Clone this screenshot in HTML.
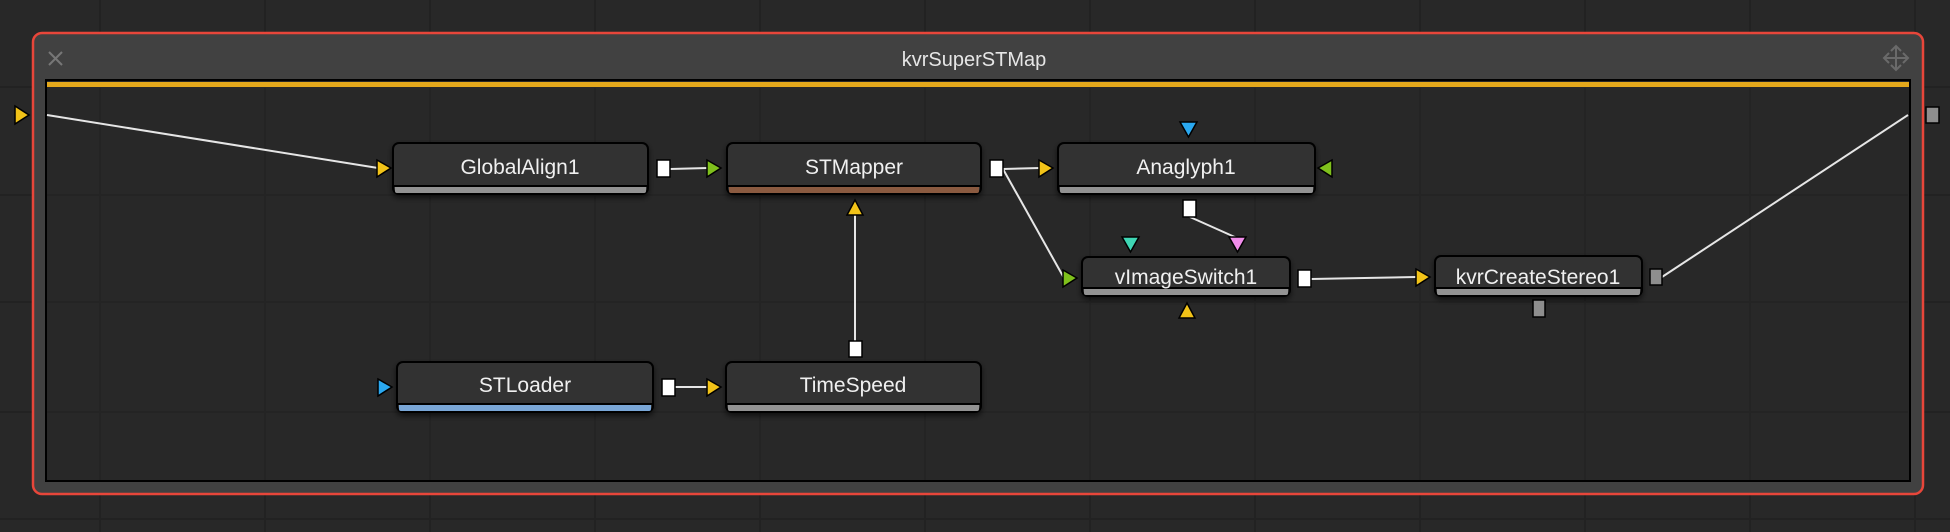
<!DOCTYPE html>
<html><head><meta charset="utf-8"><style>
html,body{margin:0;padding:0;background:#282828;width:1950px;height:532px;overflow:hidden}
svg{display:block}
text{font-family:"Liberation Sans","DejaVu Sans",sans-serif}
</style></head><body>
<svg width="1950" height="532" viewBox="0 0 1950 532" xmlns="http://www.w3.org/2000/svg">
<defs>
<filter id="sh" x="-10%" y="-20%" width="120%" height="160%"><feDropShadow dx="0" dy="3" stdDeviation="3" flood-color="#000" flood-opacity="0.6"/></filter>
</defs>
<rect width="1950" height="532" fill="#282828"/>
<g stroke="#222" stroke-width="2">
<line x1="100" y1="0" x2="100" y2="532"/><line x1="265" y1="0" x2="265" y2="532"/><line x1="430" y1="0" x2="430" y2="532"/><line x1="595" y1="0" x2="595" y2="532"/><line x1="760" y1="0" x2="760" y2="532"/><line x1="925" y1="0" x2="925" y2="532"/><line x1="1090" y1="0" x2="1090" y2="532"/><line x1="1255" y1="0" x2="1255" y2="532"/><line x1="1420" y1="0" x2="1420" y2="532"/><line x1="1585" y1="0" x2="1585" y2="532"/><line x1="1750" y1="0" x2="1750" y2="532"/><line x1="1915" y1="0" x2="1915" y2="532"/>
<line x1="0" y1="87" x2="1950" y2="87"/><line x1="0" y1="195" x2="1950" y2="195"/><line x1="0" y1="302" x2="1950" y2="302"/><line x1="0" y1="412" x2="1950" y2="412"/><line x1="0" y1="519" x2="1950" y2="519"/>
</g>
<!-- group frame -->
<rect x="33" y="33" width="1890" height="461" rx="9" fill="#414141" stroke="#e8463a" stroke-width="2.5"/>
<rect x="46" y="80" width="1864" height="401" fill="#282828" stroke="#000" stroke-width="2"/>
<g stroke="#242424" stroke-width="2">
<line x1="100" y1="88" x2="100" y2="480"/><line x1="265" y1="88" x2="265" y2="480"/><line x1="430" y1="88" x2="430" y2="480"/><line x1="595" y1="88" x2="595" y2="480"/><line x1="760" y1="88" x2="760" y2="480"/><line x1="925" y1="88" x2="925" y2="480"/><line x1="1090" y1="88" x2="1090" y2="480"/><line x1="1255" y1="88" x2="1255" y2="480"/><line x1="1420" y1="88" x2="1420" y2="480"/><line x1="1585" y1="88" x2="1585" y2="480"/><line x1="1750" y1="88" x2="1750" y2="480"/>
<line x1="47" y1="195" x2="1908" y2="195"/><line x1="47" y1="302" x2="1908" y2="302"/><line x1="47" y1="412" x2="1908" y2="412"/>
</g>
<rect x="47" y="82" width="1862" height="5" fill="#e4a81c"/>
<text x="974" y="66" font-size="20" fill="#e6e6e6" text-anchor="middle">kvrSuperSTMap</text>
<g stroke="#777" stroke-width="2"><line x1="49" y1="52" x2="62" y2="65"/><line x1="62" y1="52" x2="49" y2="65"/></g>
<g stroke="#6a6a6a" stroke-width="2" fill="none"><line x1="1896" y1="47" x2="1896" y2="69"/><line x1="1885" y1="58" x2="1907" y2="58"/><path d="M1891 51 L1896 46 L1901 51 M1891 65 L1896 70 L1901 65 M1889 53 L1884 58 L1889 63 M1903 53 L1908 58 L1903 63"/></g>

<!-- connectors -->
<g stroke="#e6e6e6" stroke-width="2" fill="none">
<line x1="47" y1="115" x2="378" y2="168"/>
<line x1="670" y1="169" x2="708" y2="168"/>
<line x1="1003" y1="169" x2="1040" y2="168"/>
<line x1="1003" y1="169" x2="1064" y2="278"/>
<line x1="855" y1="341" x2="855" y2="215"/>
<line x1="1190" y1="217" x2="1237" y2="238"/>
<line x1="1311" y1="279" x2="1416" y2="277"/>
<line x1="1662" y1="277" x2="1908" y2="115"/>
<line x1="675" y1="387" x2="708" y2="387"/>
</g>

<!-- nodes -->
<g filter="url(#sh)" stroke="#000" stroke-width="2">
<rect x="393" y="143" width="255" height="51" rx="6" fill="#323232"/>
<rect x="727" y="143" width="254" height="51" rx="6" fill="#323232"/>
<rect x="1058" y="143" width="257" height="51" rx="6" fill="#323232"/>
<rect x="1082" y="257" width="208" height="39" rx="6" fill="#323232"/>
<rect x="1435" y="256" width="207" height="40" rx="6" fill="#323232"/>
<rect x="397" y="362" width="256" height="50" rx="6" fill="#323232"/>
<rect x="726" y="362" width="255" height="50" rx="6" fill="#323232"/>
</g>
<g>
<path d="M395 187 H646 V191 Q646 193 644 193 H397 Q395 193 395 191Z" fill="#929292"/>
<path d="M729 187 H979 V191 Q979 193 977 193 H731 Q729 193 729 191Z" fill="#8a5a40"/>
<path d="M1060 187 H1313 V191 Q1313 193 1311 193 H1062 Q1060 193 1060 191Z" fill="#929292"/>
<path d="M1084 289 H1288 V293 Q1288 295 1286 295 H1086 Q1084 295 1084 293Z" fill="#929292"/>
<path d="M1437 289 H1640 V293 Q1640 295 1638 295 H1439 Q1437 295 1437 293Z" fill="#929292"/>
<path d="M399 405 H651 V409 Q651 411 649 411 H401 Q399 411 399 409Z" fill="#79a6d6"/>
<path d="M728 405 H979 V409 Q979 411 977 411 H730 Q728 411 728 409Z" fill="#929292"/>
</g>
<g stroke="#000" stroke-width="2"><line x1="394" y1="186" x2="647" y2="186"/><line x1="728" y1="186" x2="980" y2="186"/><line x1="1059" y1="186" x2="1314" y2="186"/><line x1="1083" y1="288" x2="1289" y2="288"/><line x1="1436" y1="288" x2="1641" y2="288"/><line x1="398" y1="404" x2="652" y2="404"/><line x1="727" y1="404" x2="980" y2="404"/></g>
<g font-size="21" fill="#f0f0f0" text-anchor="middle">
<text x="520" y="174">GlobalAlign1</text>
<text x="854" y="174">STMapper</text>
<text x="1186" y="174">Anaglyph1</text>
<text x="1186" y="284">vImageSwitch1</text>
<text x="1538" y="284">kvrCreateStereo1</text>
<text x="525" y="392">STLoader</text>
<text x="853" y="392">TimeSpeed</text>
</g>

<!-- ports -->
<g stroke="#000" stroke-width="1.5">
<polygon points="15,106 15,124 29,115" fill="#f2c318"/>
<polygon points="377,160 377,177 391,168" fill="#f2c318"/>
<polygon points="707,160 707,177 721,168" fill="#7fc01c"/>
<polygon points="1039,160 1039,177 1053,168" fill="#f2c318"/>
<polygon points="1332,160 1332,177 1318,168" fill="#7fc01c"/>
<polygon points="1180,122 1197,122 1188.5,137" fill="#2aa8f0"/>
<polygon points="847,215 863,215 855,200" fill="#f2c318"/>
<polygon points="1063,270 1063,287 1077,278" fill="#7fc01c"/>
<polygon points="1122,237 1139,237 1130.5,252" fill="#3fd6b4"/>
<polygon points="1229,237 1246,237 1237.5,252" fill="#f08cea"/>
<polygon points="1179,318 1195,318 1187,303" fill="#f2c318"/>
<polygon points="1416,269 1416,286 1430,277" fill="#f2c318"/>
<polygon points="378,379 378,396 392,387" fill="#2aa8f0"/>
<polygon points="707,379 707,396 721,387" fill="#f2c318"/>
<rect x="657" y="160" width="13" height="17" fill="#fff"/>
<rect x="990" y="160" width="13" height="17" fill="#fff"/>
<rect x="1183" y="200" width="13" height="17" fill="#fff"/>
<rect x="1298" y="270" width="13" height="17" fill="#fff"/>
<rect x="849" y="341" width="13" height="16" fill="#fff"/>
<rect x="662" y="379" width="13" height="17" fill="#fff"/>
<rect x="1650" y="269" width="12" height="16" fill="#8e8e8e"/>
<rect x="1533" y="300" width="12" height="17" fill="#8e8e8e"/>
<rect x="1926" y="107" width="13" height="16" fill="#8e8e8e"/>
</g>
</svg>
</body></html>
